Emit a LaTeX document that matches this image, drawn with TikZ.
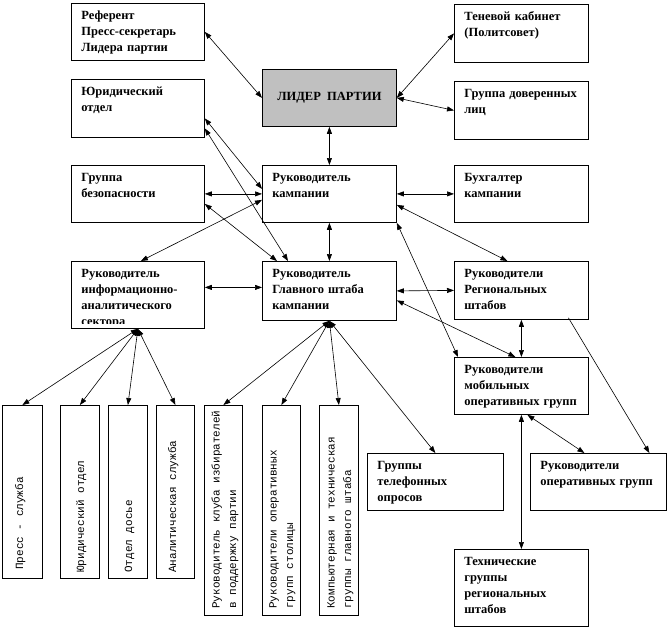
\documentclass[tikz,border=0pt]{standalone}
\usepackage{fontspec}
\setmainfont{Liberation Serif}
\newfontfamily\monofont{Liberation Mono}
\usetikzlibrary{arrows.meta}
\definecolor{leadergray}{RGB}{192,192,192}
\begin{document}
\begin{tikzpicture}[x=1pt,y=-1pt,
  box/.style={draw, line width=0.8pt, anchor=north west, inner xsep=10pt, inner ysep=0pt,
    text height=16.5pt, align=left, font=\fontsize{12.5}{15.8}\selectfont\bfseries},
  leader/.style={draw, line width=0.8pt, anchor=north west, fill=leadergray, inner sep=0pt,
    font=\fontsize{12.5}{15.8}\selectfont\bfseries},
  vbox/.style={draw, line width=0.8pt, anchor=north west, inner sep=0pt},
  vtext/.style={rotate=90, anchor=base west, inner sep=0pt, align=left,
    font=\monofont\fontsize{11}{16.5}\selectfont},
  link/.style={{Triangle[length=7pt,width=5pt]}-{Triangle[length=7pt,width=5pt]}, line width=0.6pt},
  linkone/.style={-{Triangle[length=7pt,width=5pt]}, line width=0.6pt}
]
\useasboundingbox (0,0) rectangle (668,629);

% main boxes
\node[box, text width=113pt, text depth=40.5pt] (ref) at (71,3) {Референт\\Пресс-секретарь\\Лидера партии};
\node[box, text width=113pt, text depth=41.5pt] (yur) at (71,79) {Юридический\\отдел};
\node[leader, minimum width=134pt, minimum height=57pt] (lider) at (262,69) {ЛИДЕР\ \ ПАРТИИ};
\node[box, text width=114pt, text depth=41.5pt] (ten) at (454,4) {Теневой~кабинет\\(Политсовет)};
\node[box, text width=114pt, text depth=41.5pt] (dov) at (454,81) {Группа~доверенных\\лиц};
\node[box, text width=113pt, text depth=40.5pt] (bez) at (71,165) {Группа\\безопасности};
\node[box, text width=114pt, text depth=40.5pt] (kamp) at (262,165) {Руководитель\\кампании};
\node[box, text width=114pt, text depth=40.5pt] (buh) at (454,165) {Бухгалтер\\кампании};
\node[box, text width=113pt, text depth=50.5pt] (info) at (71,261) {};
\begin{scope}
  \clip (71,261) rectangle (204,323);
  \node[box, draw=none, text width=113pt, text depth=50.5pt] (infotext) at (71,261)
    {Руководитель\\информационно-\\аналитического\\сектора};
\end{scope}
\node[box, text width=114pt, text depth=42.5pt] (glav) at (262,261) {Руководитель\\Главного~штаба\\кампании};
\node[box, text width=114pt, text depth=41.5pt] (reg) at (454,261) {Руководители\\Региональных\\штабов};
\node[box, text width=114pt, text depth=40.5pt] (mob) at (454,357) {Руководители\\мобильных\\оперативных~групп};
\node[box, text width=116pt, text depth=40.5pt] (tel) at (367,453) {Группы\\телефонных\\опросов};
\node[box, text width=116pt, text depth=40.5pt] (rop) at (530,453) {Руководители\\оперативных~групп};
\node[box, text width=114pt, text depth=60.5pt] (tech) at (454,549) {Технические\\группы\\региональных\\штабов};

% vertical boxes
\node[vbox, minimum width=40pt, minimum height=173pt] (press) at (2,405) {};
\node[vbox, minimum width=39pt, minimum height=173pt] (yurb) at (60,405) {};
\node[vbox, minimum width=39pt, minimum height=173pt] (dos) at (108,405) {};
\node[vbox, minimum width=38pt, minimum height=173pt] (anal) at (156,405) {};
\node[vbox, minimum width=38pt, minimum height=210pt] (klub) at (204,405) {};
\node[vbox, minimum width=38pt, minimum height=210pt] (ops) at (262,405) {};
\node[vbox, minimum width=39pt, minimum height=210pt] (comp) at (319,405) {};

\node[vtext] (presst) at ([xshift=21pt,yshift=9pt]press.south west) {Пресс - служба};
\node[vtext] (yurbt) at ([xshift=24pt,yshift=6pt]yurb.south west) {Юридический отдел};
\node[vtext] (dost) at ([xshift=24pt,yshift=6pt]dos.south west) {Отдел досье};
\node[vtext] (analt) at ([xshift=20pt,yshift=6pt]anal.south west) {Аналитическая служба};
\node[vtext] (klubt) at ([xshift=32pt,yshift=7pt]klub.south west) {Руководитель клуба избирателей\\в поддержку партии};
\node[vtext] (opst) at ([xshift=31pt,yshift=7pt]ops.south west) {Руководители оперативных\\групп столицы};
\node[vtext] (compt) at ([xshift=32pt,yshift=7pt]comp.south west) {Компьютерная и техническая\\группы главного штаба};

% connectors
\draw[link] (ref.east) -- (lider.west);
\draw[link] (lider.east) -- (ten.west);
\draw[link] (lider.east) -- (dov.west);
\draw[link] (lider.south) -- (kamp.north);
\draw[link] ([yshift=-10pt]yur.east) -- ([yshift=5pt]kamp.west);
\draw[link] ([yshift=-20pt]yur.east) -- ([xshift=26pt]glav.north west);
\draw[link] (bez.east) -- (kamp.west);
\draw[link] ([yshift=-10pt]bez.east) -- ([xshift=15pt]glav.north west);
\draw[link] ([yshift=-6pt]kamp.west) -- ([xshift=3pt]info.north);
\draw[link] (kamp.south) -- (glav.north);
\draw[link] ([yshift=7.5pt]info.east) -- ([yshift=3.5pt]glav.west);
\draw[link] (kamp.east) -- (buh.west);
\draw[link] ([yshift=-11pt]kamp.east) -- ([xshift=-14pt]reg.north);
\draw[link] (kamp.south east) -- ([xshift=4pt]mob.north west);
\draw[link] (glav.east) -- (reg.west);
\draw[link] ([yshift=-9.5pt]glav.east) -- ([xshift=-6pt]mob.north);
\draw[link] (reg.south) -- (mob.north);
\coordinate (regtail) at ([xshift=47pt,yshift=2pt]reg.south);
\draw[linkone] (regtail) -- ([xshift=51pt]rop.north);
\draw[link] (mob.south) -- (tech.north);
\draw[link] ([xshift=6pt]mob.south) -- ([xshift=-14pt]rop.north);

\draw[link] (glav.south) -- (klub.north);
\draw[link] (glav.south) -- (ops.north);
\draw[link] (glav.south) -- (comp.north);
\draw[link] (glav.south) -- (tel.north);

\draw[link] (info.south) -- (press.north);
\draw[link] (info.south) -- (yurb.north);
\draw[link] (info.south) -- (dos.north);
\draw[link] (info.south) -- (anal.north);
\end{tikzpicture}
\end{document}
